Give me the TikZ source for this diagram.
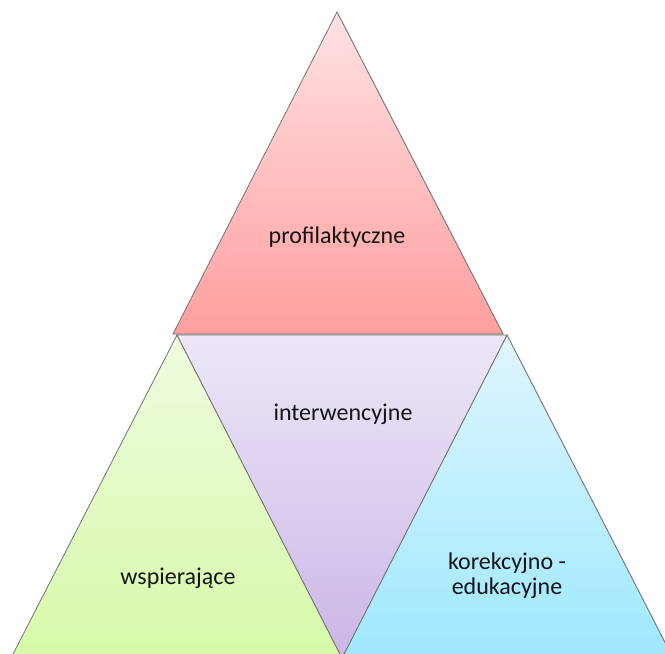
\documentclass[tikz,border=0pt]{standalone}
\usepackage{fontspec}
\setmainfont{Carlito}
\begin{document}
\begin{tikzpicture}[x=1pt,y=-1pt,
  tri/.style={draw=black!55,line width=0.8pt,line join=miter},
  lbl/.style={font=\fontsize{24}{28}\selectfont,text=black!92,align=center,inner sep=0pt},
  shadowtri/.style={fill=black,opacity=0.12}]
\definecolor{pinkT}{RGB}{255,226,228}
\definecolor{pinkB}{RGB}{255,158,158}
\definecolor{purT}{RGB}{237,231,247}
\definecolor{purB}{RGB}{203,182,232}
\definecolor{grnT}{RGB}{240,251,224}
\definecolor{grnB}{RGB}{214,250,168}
\definecolor{bluT}{RGB}{224,246,255}
\definecolor{bluB}{RGB}{158,232,255}
\useasboundingbox (0,0) rectangle (665,654);
\clip (0,0) rectangle (665,654);
% corner coordinates
\coordinate (A) at (337,12);
\coordinate (B) at (173,334);
\coordinate (C) at (503,334);
\coordinate (D) at (177,335);
\coordinate (E) at (507,335);
\coordinate (F) at (342,658);
\coordinate (G) at (11,658);
\coordinate (H) at (673,658);
% shadows
\fill[shadowtri] ([shift={(2,2)}]A) -- ([shift={(2,2)}]B) -- ([shift={(2,2)}]C) -- cycle;
% top triangle
\shade[tri,top color=pinkT,bottom color=pinkB] (A) -- (B) -- (C) -- cycle;
% left triangle
\fill[shadowtri] ([shift={(2,2)}]D) -- ([shift={(2,2)}]G) -- ([shift={(2,2)}]F) -- cycle;
\shade[tri,top color=grnT,bottom color=grnB] (D) -- (G) -- (F) -- cycle;
% right triangle
\fill[shadowtri] ([shift={(2,2)}]E) -- ([shift={(2,2)}]F) -- ([shift={(2,2)}]H) -- cycle;
\shade[tri,top color=bluT,bottom color=bluB] (E) -- (F) -- (H) -- cycle;
% middle inverted triangle
\shade[tri,top color=purT,bottom color=purB] (D) -- (E) -- (F) -- cycle;
% labels
\node[lbl] (prof) at (337,237) {profilaktyczne};
\node[lbl] (inter) at (343,414) {interwencyjne};
\node[lbl] (wsp) at (178,578) {wspierające};
\node[lbl,font=\fontsize{24}{25}\selectfont] (kor) at (507,576) {korekcyjno -\\edukacyjne};
\end{tikzpicture}
\end{document}
